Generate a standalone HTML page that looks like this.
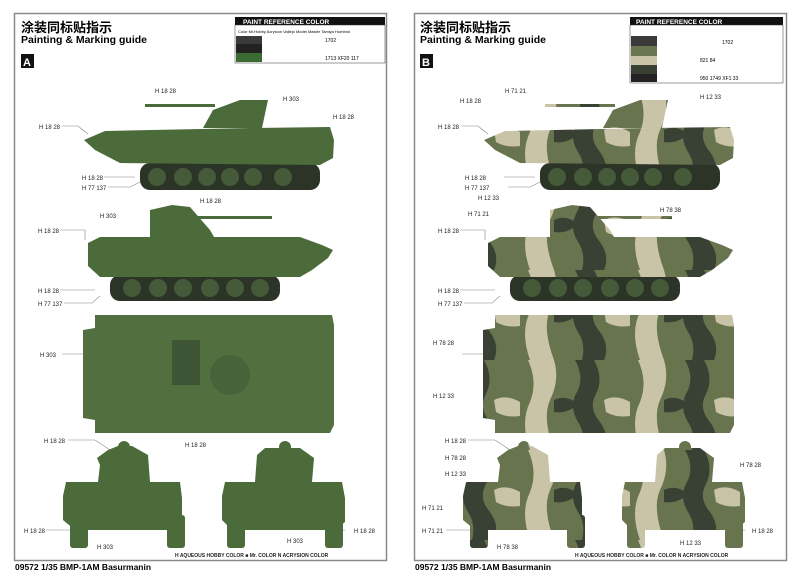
<!DOCTYPE html>
<html><head><meta charset="utf-8"><style>
html,body{margin:0;padding:0;background:#fff;}
svg{display:block}
text{font-family:"Liberation Sans","Noto Sans CJK SC",sans-serif;}
</style></head><body>
<svg width="800" height="574" viewBox="0 0 800 574" xmlns="http://www.w3.org/2000/svg">
<defs>
<pattern id="camo" patternUnits="userSpaceOnUse" width="110" height="90" patternTransform="translate(10,0)">
<rect width="110" height="90" fill="#68744e"/>
<path d="M8 0 L34 0 Q40 20 30 40 Q22 58 34 90 L10 90 Q0 62 10 42 Q18 22 8 0Z" fill="#c9c3a7"/>
<path d="M55 0 L74 0 Q84 18 76 34 Q68 48 80 62 Q90 76 84 90 L62 90 Q66 74 58 62 Q48 46 58 30 Q64 16 55 0Z" fill="#394134"/>
<path d="M34 40 Q46 34 58 44 Q48 54 34 52Z" fill="#394134"/>
<path d="M84 40 Q96 34 110 42 L110 56 Q96 58 86 52Z" fill="#c9c3a7"/>
</pattern>
<g id="side1">
<polygon points="84,140 105,131 250,128 330,127 334,140 333,158 320,165 120,163 95,150"/>
<polygon points="203,128 213,110 240,100 268,100 262,128"/>
<rect x="145" y="104" width="70" height="3"/>
</g>
<g id="side2">
<polygon points="88,243 100,237 300,237 322,245 333,250 328,258 312,270 300,277 100,277 88,266"/>
<polygon points="150,237 150,210 172,205 190,207 210,230 214,237"/>
<rect x="190" y="216" width="82" height="3"/>
</g>
<g id="top">
<polygon points="95,315 332,315 334,325 334,425 330,433 95,433 95,420 83,418 83,330 95,328"/>
</g>
<g id="front">
<polygon points="66,482 180,482 182,498 182,522 170,530 75,530 63,520 63,496"/>
<polygon points="98,482 100,465 97,458 108,450 118,446 132,446 148,455 150,482"/>
<circle cx="124" cy="447" r="6"/>
<rect x="70" y="515" width="18" height="33" rx="3"/><rect x="167" y="515" width="18" height="33" rx="3"/>
</g>
<g id="rear">
<polygon points="225,482 342,482 345,498 345,522 335,530 232,530 222,520 222,496"/>
<polygon points="255,482 257,455 265,448 300,448 314,458 312,482"/>
<circle cx="285" cy="447" r="6"/>
<rect x="227" y="515" width="18" height="33" rx="3"/><rect x="325" y="515" width="18" height="33" rx="3"/>
</g>
<g id="wheels">
<rect x="140" y="163" width="180" height="27" rx="10" fill="#2b3426"/>
<g fill="#445a38" stroke="#2b3426" stroke-width="2">
<circle cx="157" cy="177" r="10"/><circle cx="183" cy="177" r="10"/><circle cx="207" cy="177" r="10"/><circle cx="230" cy="177" r="10"/><circle cx="253" cy="177" r="10"/><circle cx="283" cy="177" r="10"/></g>
<rect x="110" y="275" width="170" height="26" rx="10" fill="#2b3426"/>
<g fill="#445a38" stroke="#2b3426" stroke-width="2">
<circle cx="132" cy="288" r="10"/><circle cx="158" cy="288" r="10"/><circle cx="183" cy="288" r="10"/><circle cx="210" cy="288" r="10"/><circle cx="235" cy="288" r="10"/><circle cx="260" cy="288" r="10"/></g>
</g>
<g id="leaders" stroke="#888" stroke-width=".6" fill="none">
<path d="M62 126 H78 L88 134"/><path d="M104 177 H135"/><path d="M108 187 H130 L140 182"/>
<path d="M60 230 H85 V240"/><path d="M60 290 H95"/><path d="M64 303 H92 L100 296"/>
<path d="M62 354 H83"/><path d="M68 440 H95 L110 450"/><path d="M46 530 H70"/><path d="M336 530 H345"/>
</g>
</defs>

<!-- Page A -->
<rect x="14.5" y="13.5" width="372" height="547" fill="#fff" stroke="#8a8a8a" stroke-width="1.5"/>
<text x="21" y="32" font-size="13" font-weight="bold">涂装同标贴指示</text>
<text x="21" y="43" font-size="10.5" font-weight="bold">Painting &amp; Marking guide</text>
<rect x="21" y="54" width="13" height="14" fill="#111"/>
<text x="23" y="66" font-size="11" font-weight="bold" fill="#fff">A</text>
<rect x="235" y="17" width="150" height="8" fill="#111"/>
<text x="243" y="24" font-size="6.5" font-weight="bold" fill="#fff">PAINT REFERENCE COLOR</text>
<rect x="235" y="25" width="150" height="38" fill="#fff" stroke="#333" stroke-width=".5"/>
<rect x="236" y="36" width="26" height="8" fill="#3a3a3a"/><rect x="236" y="44" width="26" height="9" fill="#222"/><rect x="236" y="53" width="26" height="9" fill="#3b6a33"/>
<text x="238" y="33" font-size="4">Color  Mr.Hobby  Acrysion  Vallejo  Model Master  Tamiya  Humbrol</text>
<text x="325" y="42" font-size="5">1702</text>
<text x="325" y="60" font-size="5">1713   XF20   117</text>

<use href="#leaders"/>
<use href="#wheels"/>
<g fill="#4c6b3b">
<use href="#side1"/><use href="#side2"/>
<use href="#top" fill="#52703f"/>
<use href="#front"/><use href="#rear"/>
</g>
<rect x="172" y="340" width="28" height="45" fill="#3e5535"/>
<circle cx="230" cy="375" r="20" fill="#466339"/>

<g font-size="6" fill="#222">
<text x="155" y="93">H 18 28</text><text x="283" y="101">H 303</text><text x="333" y="119">H 18 28</text>
<text x="39" y="129">H 18 28</text><text x="82" y="180">H 18 28</text><text x="82" y="190">H 77 137</text>
<text x="100" y="218">H 303</text><text x="38" y="233">H 18 28</text><text x="200" y="203">H 18 28</text>
<text x="38" y="293">H 18 28</text><text x="38" y="306">H 77 137</text><text x="40" y="357">H 303</text>
<text x="44" y="443">H 18 28</text><text x="185" y="447">H 18 28</text>
<text x="24" y="533">H 18 28</text><text x="97" y="549">H 303</text><text x="287" y="543">H 303</text><text x="354" y="533">H 18 28</text>
<text x="175" y="557" font-weight="bold" font-size="5">H  AQUEOUS HOBBY COLOR    ■ Mr. COLOR    N  ACRYSION COLOR</text>
</g>
<text x="15" y="570" font-size="8.5" font-weight="bold">09572 1/35 BMP-1AM Basurmanin</text>

<!-- Page B -->
<rect x="414.5" y="13.5" width="372" height="547" fill="#fff" stroke="#8a8a8a" stroke-width="1.5"/>
<text x="420" y="32" font-size="13" font-weight="bold">涂装同标贴指示</text>
<text x="420" y="43" font-size="10.5" font-weight="bold">Painting &amp; Marking guide</text>
<rect x="420" y="54" width="13" height="14" fill="#111"/>
<text x="422" y="66" font-size="11" font-weight="bold" fill="#fff">B</text>
<rect x="630" y="17" width="153" height="8" fill="#111"/>
<text x="636" y="24" font-size="6.5" font-weight="bold" fill="#fff">PAINT REFERENCE COLOR</text>
<rect x="630" y="25" width="153" height="58" fill="#fff" stroke="#333" stroke-width=".5"/>
<rect x="631" y="36" width="26" height="10" fill="#3a3a3a"/><rect x="631" y="46" width="26" height="10" fill="#6a7650"/><rect x="631" y="56" width="26" height="9" fill="#c9c3a7"/><rect x="631" y="65" width="26" height="9" fill="#384034"/><rect x="631" y="74" width="26" height="8" fill="#222"/>
<text x="722" y="44" font-size="5">1702</text>
<text x="700" y="62" font-size="5">821         84</text>
<text x="700" y="80" font-size="5">950  1749  XF1  33</text>

<g transform="translate(400,0)"><use href="#leaders"/><use href="#wheels"/></g>
<g fill="url(#camo)" transform="translate(400,0)">
<use href="#side1"/><use href="#side2"/><use href="#top"/><use href="#front"/><use href="#rear"/>
</g>

<g font-size="6" fill="#222">
<text x="505" y="93">H 71 21</text><text x="460" y="103">H 18 28</text><text x="700" y="99">H 12 33</text>
<text x="438" y="129">H 18 28</text><text x="465" y="180">H 18 28</text><text x="465" y="190">H 77 137</text>
<text x="478" y="200">H 12 33</text><text x="468" y="216">H 71 21</text><text x="438" y="233">H 18 28</text><text x="660" y="212">H 78 38</text>
<text x="438" y="293">H 18 28</text><text x="438" y="306">H 77 137</text><text x="433" y="345">H 78 28</text><text x="433" y="398">H 12 33</text>
<text x="445" y="443">H 18 28</text><text x="445" y="460">H 78 28</text><text x="445" y="476">H 12 33</text>
<text x="740" y="467">H 78 28</text><text x="422" y="510">H 71 21</text><text x="422" y="533">H 71 21</text><text x="497" y="549">H 78 38</text>
<text x="680" y="545">H 12 33</text><text x="752" y="533">H 18 28</text>
<text x="575" y="557" font-weight="bold" font-size="5">H  AQUEOUS HOBBY COLOR    ■ Mr. COLOR    N  ACRYSION COLOR</text>
</g>
<text x="415" y="570" font-size="8.5" font-weight="bold">09572 1/35 BMP-1AM Basurmanin</text>
</svg>
</body></html>
